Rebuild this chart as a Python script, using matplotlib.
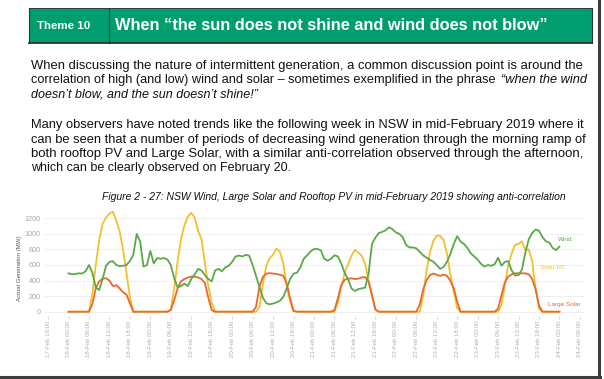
import numpy as np
import pandas as pd
import matplotlib
matplotlib.use('Agg')
import matplotlib.pyplot as plt
from matplotlib.patches import Rectangle

plt.rcParams['font.family'] = ['Liberation Sans', 'DejaVu Sans']

# hourly MW from 18-Feb 00:00, one list per day, plus the 24-Feb 00:00 point
wind_18 = [493, 480, 485, 493, 490, 520, 600, 500, 310, 280, 420, 590, 640, 650, 600, 585, 590, 600, 650, 730, 1000, 900, 580, 600]
wind_19 = [780, 620, 690, 680, 690, 670, 600, 430, 310, 330, 360, 330, 420, 480, 550, 530, 470, 420, 390, 530, 550, 520, 570, 590]
wind_20 = [640, 710, 720, 710, 730, 720, 600, 460, 320, 180, 110, 95, 105, 120, 140, 190, 300, 420, 490, 500, 570, 680, 725, 775]
wind_21 = [805, 805, 790, 680, 655, 680, 725, 710, 620, 500, 415, 300, 266, 290, 300, 310, 480, 870, 950, 1010, 1025, 1045, 1085, 1060]
wind_22 = [1020, 1000, 960, 860, 825, 825, 815, 770, 725, 695, 664, 643, 600, 550, 575, 640, 740, 870, 970, 900, 870, 820, 750, 710]
wind_23 = [670, 615, 580, 600, 590, 610, 694, 590, 640, 650, 530, 465, 470, 540, 760, 930, 1010, 1055, 1040, 960, 905, 890, 820, 790]
wind_end = [836]

rt_18 = [0, 0, 0, 0, 0, 0, 0, 230, 600, 920, 1130, 1210, 1260, 1285, 1170, 1030, 800, 500, 190, 0, 0, 0, 0, 0]
rt_19 = [0, 0, 0, 0, 0, 0, 30, 300, 650, 930, 1110, 1220, 1270, 1210, 1040, 930, 620, 330, 110, 0, 0, 0, 0, 0]
rt_20 = [0, 0, 0, 0, 0, 0, 0, 0, 60, 350, 590, 690, 730, 810, 770, 620, 330, 130, 10, 0, 0, 0, 0, 0]
rt_21 = [0, 0, 0, 0, 0, 0, 0, 110, 320, 500, 610, 720, 793, 760, 720, 620, 400, 200, 30, 0, 0, 0, 0, 0]
rt_22 = [0, 0, 0, 0, 0, 0, 0, 0, 200, 520, 760, 910, 977, 975, 920, 750, 480, 260, 50, 0, 0, 0, 0, 0]
rt_23 = [0, 0, 0, 0, 0, 0, 0, 86, 343, 600, 750, 860, 870, 905, 790, 800, 650, 300, 40, 0, 0, 0, 0, 0]
rt_end = [0]

ls_18 = [0, 0, 0, 0, 0, 0, 0, 100, 300, 390, 425, 430, 400, 330, 340, 300, 250, 220, 110, 0, 0, 0, 0, 0]
ls_19 = [0, 0, 0, 0, 0, 0, 20, 150, 300, 390, 420, 440, 450, 450, 440, 420, 370, 180, 20, 0, 0, 0, 0, 0]
ls_20 = [0, 0, 0, 0, 0, 0, 0, 60, 320, 445, 490, 495, 490, 485, 475, 460, 360, 171, 10, 0, 0, 0, 0, 0]
ls_21 = [0, 0, 0, 0, 0, 0, 20, 170, 340, 410, 425, 428, 420, 425, 440, 445, 390, 220, 30, 0, 0, 0, 0, 0]
ls_22 = [0, 0, 0, 0, 0, 0, 0, 90, 280, 400, 470, 490, 475, 460, 478, 460, 400, 300, 130, 0, 0, 0, 0, 0]
ls_23 = [0, 0, 0, 0, 0, 0, 40, 210, 380, 450, 480, 493, 493, 493, 493, 480, 420, 290, 80, 0, 0, 0, 0, 0]
ls_end = [0]

wind = np.array(wind_18 + wind_19 + wind_20 + wind_21 + wind_22 + wind_23 + wind_end)
solar_rt = np.array(rt_18 + rt_19 + rt_20 + rt_21 + rt_22 + rt_23 + rt_end)
large_solar = np.array(ls_18 + ls_19 + ls_20 + ls_21 + ls_22 + ls_23 + ls_end)
hours = np.arange(len(wind))
start = pd.Timestamp('2019-02-18 00:00')

title = 'When \u201cthe sun does not shine and wind does not blow\u201d'
caption = 'Figure 2 - 27: NSW Wind, Large Solar and Rooftop PV in mid-February 2019 showing anti-correlation'
para = [
    ([('When discussing the nature of intermittent generation, a common discussion point is around the', 'normal')], True),
    ([('correlation of high (and low) wind and solar \u2013 sometimes exemplified in the phrase', 'normal'),
      ('\u201cwhen the wind', 'italic')], True),
    ([('doesn\u2019t blow, and the sun doesn\u2019t shine!\u201d', 'italic')], False),
    ([('Many observers have noted trends like the following week in NSW in mid-February 2019 where it', 'normal')], True),
    ([('can be seen that a number of periods of decreasing wind generation through the morning ramp of', 'normal')], True),
    ([('both rooftop PV and Large Solar, with a similar anti-correlation observed through the afternoon,', 'normal')], True),
    ([('which can be clearly observed on February 20.', 'normal')], False),
]
para_y = [65.7, 79.3, 93.3, 124.0, 138.7, 153.2, 167.7]

GREEN = '#009e6f'
C_WIND = '#5ba84b'
C_RT = '#f4bf2c'
C_LS = '#e8692b'

W, H = 604, 379
fig = plt.figure(figsize=(W / 100, H / 100), dpi=100)
page = fig.add_axes([0, 0, 1, 1])
page.set_xlim(0, W)
page.set_ylim(H, 0)
page.axis('off')
rend = fig.canvas.get_renderer()


def text_w(t):
    return t.get_window_extent(renderer=rend).width


def fit(x0, x1, y, s, **kw):
    t = page.text(x0, y, s, fontsize=10, va='center', ha='left', **kw)
    t.set_fontsize(10 * (x1 - x0) / text_w(t))
    return t


def put_line(y, parts, just, size=9.0, x0=31, x1=587):
    ts = [page.text(x0, y, s, fontsize=size, style=st, va='baseline', color='#111') for s, st in parts]
    space = size * 100 / 72 * 0.278
    natural = sum(text_w(t) for t in ts) + space * (len(ts) - 1)
    if just:
        k = min(max((x1 - x0) / natural, 0.95), 1.05)
        for t in ts:
            t.set_fontsize(size * k)
    if len(ts) > 1:
        ts[-1].set_x(x1)
        ts[-1].set_ha('right')


# header bar
page.add_patch(Rectangle((29, 8), 563, 35, fc=GREEN, ec='none'))
page.plot([29, 592], [8.4, 8.4], color='#333333', lw=0.6)
page.plot([29, 592], [42.8, 42.8], color='#333333', lw=1.3)
for xv in (29.4, 109, 591.6):
    page.plot([xv, xv], [8, 43], color='#333333', lw=0.8)
fit(37, 90, 26, 'Theme 10', weight='bold', color='white')
fit(115, 550, 25.5, title, weight='bold', color='white')

for (parts, just), y in zip(para, para_y):
    put_line(y + 3.8, parts, just)

fit(102, 569, 197, caption, style='italic', color='#111111')

# screenshot frame
page.plot([598.7, 598.7], [0, 378], color='#3c3c3c', lw=2.2)
page.plot([0, 600], [376.6, 376.6], color='#3c3c3c', lw=2.2)

# chart
ax = fig.add_axes([45 / W, 1 - 316 / H, 540 / W, 108 / H])
ax.set_xlim(-6.9, 151.5)
ax.set_ylim(-55, 1332)
ax.plot(hours, solar_rt, color=C_RT, lw=1.3, solid_joinstyle='round')
ax.plot(hours, large_solar, color=C_LS, lw=1.3, solid_joinstyle='round')
ax.plot(hours, wind, color=C_WIND, lw=1.3, solid_joinstyle='round')

ax.annotate('Wind', xy=(hours[-1], wind[-1]), xytext=(-1, 5), textcoords='offset points',
            fontsize=4.6, color=C_WIND, va='center')
ax.annotate('Solar RT', xy=(hours[-1], solar_rt[-1]), xytext=(-14, 32), textcoords='offset points',
            fontsize=4.6, color=C_RT, va='center')
ax.annotate('Large Solar', xy=(hours[-1], large_solar[-1]), xytext=(-8, 5), textcoords='offset points',
            fontsize=4.6, color=C_LS, va='center')

ax.set_yticks(range(0, 1201, 200))
ax.grid(axis='y', color='#ededed', lw=0.6)
ax.set_axisbelow(True)
for sp in ax.spines.values():
    sp.set_visible(False)
ticks = np.arange(-6, 151, 6)
labels = [(start + pd.Timedelta(hours=int(t))).strftime('%d-Feb %H:%M') for t in ticks]
ax.set_xticks(ticks, labels, rotation=90)
ax.tick_params(axis='x', length=2, color='#d8d8d8', pad=1.5, labelsize=4.4, labelcolor='#b0b0b0')
ax.tick_params(axis='y', length=0, pad=3, labelsize=5.2, labelcolor='#a8a8a8')

page.text(20, 268, 'Actual Generation (MW)', rotation=90, fontsize=4.4, color='#555555',
          ha='center', va='center')

fig.savefig('out.png', dpi=100)
